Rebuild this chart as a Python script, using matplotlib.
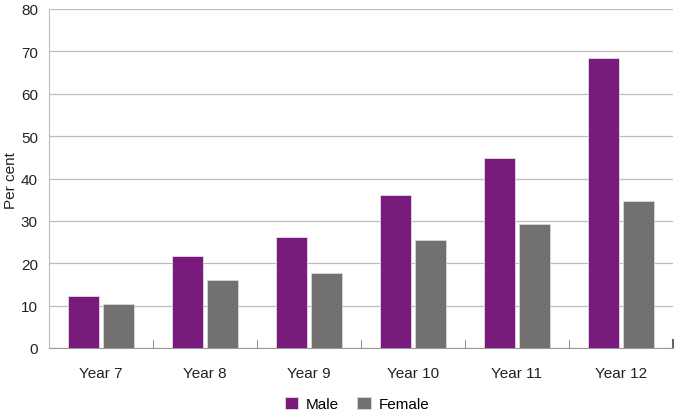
import matplotlib.pyplot as plt
import numpy as np

plt.rcParams['font.family'] = ['Liberation Sans', 'DejaVu Sans']

years = ["Year 7", "Year 8", "Year 9", "Year 10", "Year 11", "Year 12"]
male = [12.3, 21.6, 26.2, 36.1, 44.8, 68.4]
female = [10.5, 16.0, 17.7, 25.5, 29.2, 34.7]

purple = "#781b7b"
grey = "#727071"

fig = plt.figure(figsize=(6.75, 4.14), dpi=100)
ax = fig.add_axes([49/675, 1 - 349/414, 624/675, 339/414])

x = np.arange(len(years))
w = 0.3
ax.bar(x - 0.165, male, w, color=purple, edgecolor="#e6d8e6", linewidth=0.6, label="Male", zorder=3)
ax.bar(x + 0.165, female, w, color=grey, edgecolor="#d8d8d8", linewidth=0.6, label="Female", zorder=3)

ax.set_xlim(-0.5, len(years) - 0.5)
ax.set_ylim(0, 80)
ax.set_yticks(range(0, 81, 10))
ax.yaxis.grid(True, color="#bdbdbd", linewidth=0.9, zorder=0)
ax.set_axisbelow(True)

for s in ["top", "right"]:
    ax.spines[s].set_visible(False)
ax.spines["left"].set_color("#bdbdbd")
ax.spines["bottom"].set_color("#9a9a9a")

ax.set_xticks(x)
ax.set_xticklabels(years, fontsize=11)
ax.tick_params(axis="x", length=0, pad=13, colors="#222222")
ax.tick_params(axis="y", length=0, pad=8, labelsize=11, colors="#222222")
for b in np.arange(0.5, len(years) - 0.5, 1):
    ax.plot([b, b], [0, 2], color="#9a9a9a", linewidth=0.8, zorder=2, clip_on=False)
ax.plot([len(years) - 0.5] * 2, [0, 2], color="#666666", linewidth=1.5, clip_on=False)

fig.text(11/675, 1 - 181/414, "Per cent", rotation=90, ha="center", va="center",
         fontsize=11, color="#222222")

fig.legend(*ax.get_legend_handles_labels(), loc="center", bbox_to_anchor=(357/675, 1 - 405/414),
           ncol=2, frameon=False, fontsize=11, handlelength=0.9, handleheight=0.9,
           columnspacing=1.2, handletextpad=0.5)

fig.savefig("out.png", dpi=100)
